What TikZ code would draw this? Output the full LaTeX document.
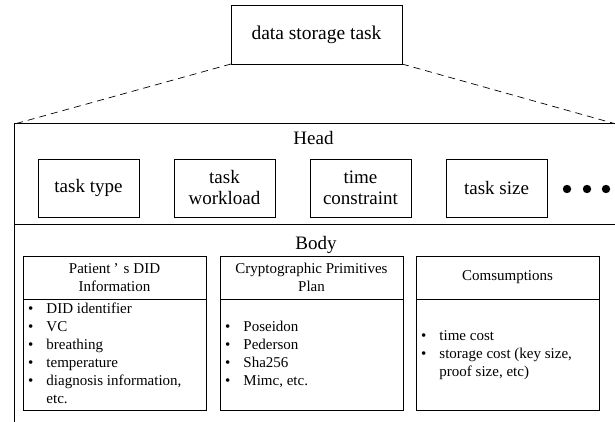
\documentclass[tikz,border=0pt]{standalone}
\usepackage{fontspec}
\setmainfont{Liberation Serif}
\usetikzlibrary{positioning}
\begin{document}
\begin{tikzpicture}[x=1pt,y=-1pt,
    box/.style={draw,line width=0.8pt,inner sep=0pt,outer sep=0pt,align=center},
    headbox/.style={box,minimum width=101pt,minimum height=58pt,font=\fontsize{19}{21}\selectfont},
    cell/.style={box,minimum width=183pt,font=\fontsize{15}{18}\selectfont},
    itemlist/.style={inner sep=0pt,anchor=west,font=\fontsize{15}{18}\selectfont},
    label/.style={font=\fontsize{19}{22}\selectfont},
    frame/.style={line width=1pt},
    zoomline/.style={line width=0.7pt,dash pattern=on 7pt off 5pt}]
  \useasboundingbox (0,0) rectangle (615,422);
  \clip (0,0) rectangle (615,422);

  % the task and its expanded view
  \node[box,minimum width=171pt,minimum height=59pt,font=\fontsize{19.5}{22}\selectfont] (task) at (316.5,34.5) {data storage task};
  \coordinate (fl) at (14.5,124);
  \coordinate (fr) at (616,124);
  \coordinate (fb) at (14.5,430);
  \draw[zoomline] (task.south west) -- (fl);
  \draw[zoomline] (task.south east) -- (fr);
  \draw[frame] (fr) -- (fl) -- (fb);
  \draw[frame] (14.5,224) -- (616,224);

  % head fields
  \node[label] (head) at (313.5,138) {Head};
  \node[headbox] (type) at (88.5,188) {task type};
  \node[headbox,right=35pt of type] (load) {task\\workload};
  \node[headbox,right=35pt of load] (time) {time\\constraint};
  \node[headbox,right=35pt of time] (size) {task size};
  \foreach \x in {567,587,606}
    \fill (\x,189) circle (4.2);

  % body fields
  \node[label] (body) at (316,245) {Body};
  \node[cell,minimum height=43pt] (pat) at (114.5,277.5) {Patient\hspace{3pt}’\hspace{5pt}s\hspace{4pt}DID\\Information};
  \node[cell,minimum height=111pt,below=0pt of pat] (patbox) {};
  \node[cell,minimum height=43pt,right=14pt of pat] (crypt) {Cryptographic Primitives\\Plan};
  \node[cell,minimum height=111pt,below=0pt of crypt] (cryptbox) {};
  \node[cell,minimum height=43pt,right=13pt of crypt] (cost) {Comsumptions};
  \node[cell,minimum height=111pt,below=0pt of cost] (costbox) {};

  \node[itemlist] (patitems) at ([xshift=5pt]patbox.west) {%
    \begin{tabular}{@{}l@{\hspace{13pt}}l@{}}
      \textbullet & DID identifier\\
      \textbullet & VC\\
      \textbullet & breathing\\
      \textbullet & temperature\\
      \textbullet & diagnosis information,\\
                  & etc.
    \end{tabular}};
  \node[itemlist] (cryptitems) at ([xshift=5pt]cryptbox.west) {%
    \begin{tabular}{@{}l@{\hspace{13pt}}l@{}}
      \textbullet & Poseidon\\
      \textbullet & Pederson\\
      \textbullet & Sha256\\
      \textbullet & Mimc, etc.
    \end{tabular}};
  \node[itemlist] (costitems) at ([xshift=5pt]costbox.west) {%
    \begin{tabular}{@{}l@{\hspace{13pt}}l@{}}
      \textbullet & time cost\\
      \textbullet & storage cost (key size,\\
                  & proof size, etc)
    \end{tabular}};
\end{tikzpicture}
\end{document}
